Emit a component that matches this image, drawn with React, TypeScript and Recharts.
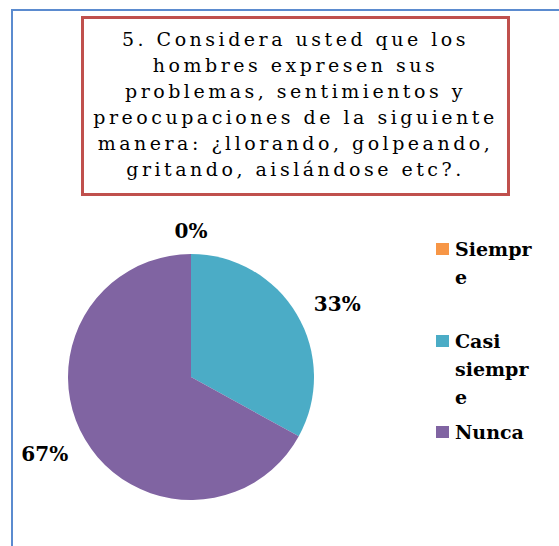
import { PieChart, Pie, Cell, Legend } from "recharts";

const categories = ["Siempre", "Casi siempre", "Nunca"];
const values = [0, 33, 67];
const colors = ["#F79646", "#4BACC6", "#8064A2"];
const titleLines = [
  "5. Considera usted que los",
  "hombres expresen sus",
  "problemas, sentimientos y",
  "preocupaciones de la siguiente",
  "manera: ¿llorando, golpeando,",
  "gritando, aislándose etc?.",
];

const data = categories.map((name, i) => ({ name, value: values[i] }));

const RADIAN = Math.PI / 180;
const FONT = "'DejaVu Serif', serif";

// split long words the way the narrow legend box wraps them
function wrapLabel(text: string) {
  const out: string[] = [];
  text.split(" ").forEach((w) => {
    for (let i = 0; i < w.length; i += 6) out.push(w.slice(i, i + 6));
  });
  return out;
}

function renderLabel(props: any) {
  const { cx, cy, midAngle, outerRadius, percent } = props;
  const cos = Math.cos(-midAngle * RADIAN);
  const sin = Math.sin(-midAngle * RADIAN);
  const txt = `${Math.round(percent * 100)}%`;
  const halfW = txt.length * 8;
  const r = outerRadius + 19;
  const sx = Math.abs(cos) < 0.01 ? 0 : Math.sign(cos);
  return (
    <text
      x={cx + r * cos + halfW * sx}
      y={cy + (r + 6) * sin + 2}
      textAnchor="middle"
      dominantBaseline="central"
      fontFamily={FONT}
      fontWeight="bold"
      fontSize={20}
      fill="#000"
    >
      {txt}
    </text>
  );
}

function renderLegend(props: any) {
  const payload = [...(props.payload || [])].sort(
    (a: any, b: any) => categories.indexOf(a.value) - categories.indexOf(b.value)
  );
  return (
    <div style={{ position: "relative", width: 120, height: 260 }}>
      {payload.map((entry: any, i: number) => (
        <div
          key={`leg-${i}`}
          style={{ position: "absolute", left: 0, top: i * 91.5, display: "flex" }}
        >
          <div
            style={{
              width: 13,
              height: 12,
              background: entry.color,
              marginTop: 5,
              marginRight: 6,
            }}
          />
          <div
            style={{
              fontFamily: FONT,
              fontWeight: "bold",
              fontSize: 19,
              lineHeight: "28px",
              color: "#000",
              marginTop: -3,
            }}
          >
            {wrapLabel(entry.value).map((l, j) => (
              <div key={j}>{l}</div>
            ))}
          </div>
        </div>
      ))}
    </div>
  );
}

export default function App() {
  return (
    <div
      style={{
        position: "absolute",
        left: 0,
        top: 0,
        width: 559,
        height: 546,
        overflow: "hidden",
        background: "#fff",
      }}
    >
      <div
        style={{
          position: "absolute",
          left: 11,
          top: 9,
          width: 600,
          height: 600,
          border: "2px solid #5B8BCF",
        }}
      />
      <div
        style={{
          position: "absolute",
          left: 81,
          top: 16,
          width: 423,
          height: 169,
          border: "3px solid #C0504D",
          display: "flex",
          flexDirection: "column",
          justifyContent: "center",
          alignItems: "center",
          fontFamily: FONT,
          fontSize: 19,
          lineHeight: "26px",
          letterSpacing: 3.5,
          color: "#000",
          paddingBottom: 5,
          boxSizing: "content-box",
        }}
      >
        {titleLines.map((l, i) => (
          <div key={i} style={{ whiteSpace: "nowrap" }}>
            {l}
          </div>
        ))}
      </div>
      <div style={{ position: "absolute", left: 0, top: 0 }}>
        <PieChart width={559} height={546} margin={{ top: 0, right: 0, bottom: 0, left: 0 }}>
          <Pie
            data={data}
            dataKey="value"
            nameKey="name"
            cx={191}
            cy={377}
            outerRadius={123}
            startAngle={90}
            endAngle={-270}
            stroke="none"
            label={renderLabel}
            labelLine={false}
            isAnimationActive={false}
          >
            {data.map((entry, index) => (
              <Cell key={`cell-${index}`} fill={colors[index]} />
            ))}
          </Pie>
          <Legend
            content={renderLegend}
            wrapperStyle={{ position: "absolute", left: 436, top: 238, width: 120 }}
          />
        </PieChart>
      </div>
    </div>
  );
}
